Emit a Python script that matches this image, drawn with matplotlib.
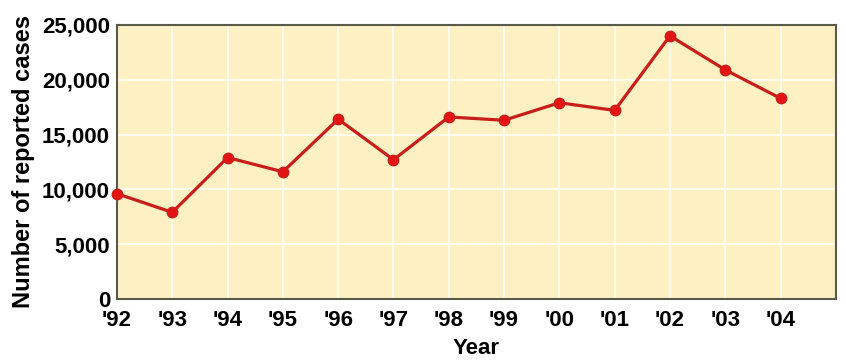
import matplotlib.pyplot as plt
import numpy as np

# reported cases per year
years = ["'92", "'93", "'94", "'95", "'96", "'97", "'98", "'99", "'00", "'01", "'02", "'03", "'04"]
cases = [9600, 7900, 12900, 11600, 16400, 12700, 16600, 16300, 17900, 17200, 24000, 20900, 18300]
y_ticks = [0, 5000, 10000, 15000, 20000, 25000]
y_tick_labels = ["0", "5,000", "10,000", "15,000", "20,000", "25,000"]

plt.rcParams['font.family'] = ['Liberation Sans', 'DejaVu Sans']

fig = plt.figure(figsize=(8.46, 3.61), dpi=100)
ax = fig.add_axes([0.1383, 0.172, 0.8497, 0.759])

x = np.arange(len(years))
ax.set_facecolor('#FDF0C3')
ax.plot(x, cases, color='#C81E1A', lw=2.3, marker='o', markersize=7.5,
        markerfacecolor='#E41414', markeredgecolor='#C81E1A', zorder=3, clip_on=False)

ax.set_xlim(0, 13)
ax.set_ylim(0, 25000)
ax.set_xticks(x)
ax.set_xticklabels(years, fontsize=16, fontweight='bold')
ax.set_yticks(y_ticks)
ax.set_yticklabels(y_tick_labels, fontsize=16, fontweight='bold')
ax.tick_params(axis='x', length=0, pad=8)
ax.tick_params(axis='y', length=0, pad=5)

ax.grid(True, color='white', lw=1.4, alpha=0.75)
ax.set_axisbelow(True)
for s in ax.spines.values():
    s.set_color('#5a5a4a')
    s.set_linewidth(1.5)

ax.set_xlabel('Year', fontsize=16, fontweight='bold', labelpad=5)
ax.set_ylabel('Number of reported cases', fontsize=17, fontweight='bold', labelpad=5)

fig.savefig('out.png', dpi=100)
